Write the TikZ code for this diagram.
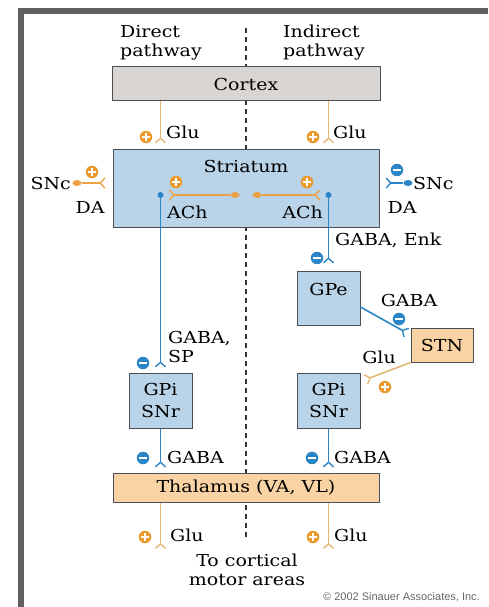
\documentclass[tikz,border=0pt]{standalone}
\usepackage{fontspec}
\setmainfont{DejaVu Serif}[FakeStretch=1.15]
\setsansfont{Liberation Sans}
\usetikzlibrary{arrows.meta,calc,shapes.geometric,positioning}

\definecolor{framegray}{HTML}{606060}
\definecolor{cortexfill}{HTML}{D9D5D3}
\definecolor{bluefill}{HTML}{B9D3E8}
\definecolor{orangefill}{HTML}{F9D3A3}
\definecolor{boxborder}{HTML}{4A4F55}
\definecolor{axonblue}{HTML}{2A86C6}
\definecolor{axontan}{HTML}{E3B877}
\definecolor{axonorange}{HTML}{EBA145}
\definecolor{signorange}{HTML}{EB9A2E}

\begin{document}
\begin{tikzpicture}
        [
            x=1pt,
            y=-1pt,
            font=\fontsize{16.5}{19}\selectfont,
            box/.style = {
                rectangle,
                draw=boxborder,
                line width=1pt,
                inner sep=0pt
            },
            synapse/.style = {
                line width=1.6pt,
                -{Straight Barb[reversed,length=4.5pt,width=10pt,line width=1.4pt]},
                shorten >=5pt
            },
            blueaxon/.style = {synapse, draw=axonblue},
            tanaxon/.style = {synapse, draw=axontan},
            orangeaxon/.style = {synapse, draw=axonorange},
            plus/.style = {
                circle,
                fill=signorange,
                minimum size=12.5pt,
                inner sep=0pt,
                path picture={
                    \draw[white,line width=2pt]
                        ([xshift=-3.6pt]path picture bounding box.center) -- ([xshift=3.6pt]path picture bounding box.center)
                        ([yshift=-3.6pt]path picture bounding box.center) -- ([yshift=3.6pt]path picture bounding box.center);
                }
            },
            minus/.style = {
                circle,
                fill=axonblue,
                minimum size=12.5pt,
                inner sep=0pt,
                path picture={
                    \draw[white,line width=2pt]
                        ([xshift=-3.6pt]path picture bounding box.center) -- ([xshift=3.6pt]path picture bounding box.center);
                }
            },
            soma/.style = {circle, fill=axonblue, inner sep=0pt, minimum size=6pt},
            bouton/.style = {ellipse, fill=axonorange, inner sep=0pt, minimum width=9pt, minimum height=6pt},
            lbl/.style = {inner sep=0pt}
        ]

        \useasboundingbox (0,0) rectangle (488,607);

        % frame
        \fill[framegray] (18,8) rectangle (488,14);
        \fill[framegray] (18,8) rectangle (24,607);

        % divider between the two pathways
        \draw[black!80, line width=1.8pt, dash pattern=on 5pt off 4pt] (246,28) -- (246,540);

        \node[lbl,anchor=north west,align=left] (direct) at (120,25) {Direct\\pathway};
        \node[lbl,anchor=north west,align=left] (indirect) at (283,25) {Indirect\\pathway};

        % nuclei
        \node[box,fill=cortexfill,minimum width=268pt,minimum height=34pt] (cortex) at (246,84) {Cortex};
        \node[box,fill=bluefill,minimum width=266pt,minimum height=78pt,
              label={[anchor=north,yshift=-8pt]north:Striatum}] (striatum) at (246,188) {};
        \node[box,fill=bluefill,minimum width=63pt,minimum height=54pt,
              label={[anchor=north,yshift=-9pt]north:GPe}] (gpe) at (328.5,298) {};
        \node[box,fill=orangefill,minimum width=62pt,minimum height=34pt] (stn) at (442,345) {STN};
        \node[box,fill=bluefill,minimum width=63pt,minimum height=55pt,align=center] (gpiL) at (160.5,400.5) {GPi\\[3pt]SNr};
        \node[box,fill=bluefill,minimum width=63pt,minimum height=55pt,align=center] (gpiR) at (328.5,400.5) {GPi\\[3pt]SNr};
        \node[box,fill=orangefill,minimum width=266pt,minimum height=29pt] (thal) at (246,487.5) {Thalamus (VA, VL)};

        % cell bodies and terminals
        \node[soma] (somaL) at (160.5,195) {};
        \node[soma] (somaR) at (328.5,195) {};
        \node[bouton] (achL) at (235,195) {};
        \node[bouton] (achR) at (257,195) {};
        \node[bouton] (sncL) at (77,183) {};
        \node[bouton,fill=axonblue] (sncR) at (408,183) {};

        % connections
        \draw[tanaxon] (cortex.south -| somaL) -- (striatum.north -| somaL);
        \draw[tanaxon] (cortex.south -| somaR) -- (striatum.north -| somaR);
        \draw[orangeaxon,shorten >=7pt] (sncL) -- (striatum.west |- sncL);
        \draw[blueaxon,shorten >=6pt] (sncR) -- (striatum.east |- sncR);
        \draw[orangeaxon] (achL) -- (somaL);
        \draw[orangeaxon] (achR) -- (somaR);
        \draw[blueaxon] (somaL) -- (gpiL.north);
        \draw[blueaxon,shorten >=7pt] (somaR) -- (gpe.north);
        \draw[blueaxon,shorten >=4pt] ($(gpe.east)+(0,9)$) -- ($(stn.west)+(0,-10)$);
        \draw[tanaxon] (stn.south west) -- ($(gpiR.north east)+(0,9)$);
        \draw[blueaxon] (gpiL.south) -- (thal.north -| gpiL);
        \draw[blueaxon] (gpiR.south) -- (thal.north -| gpiR);
        \coordinate (outL) at (160.5,549);
        \coordinate (outR) at (328.5,549);
        \draw[tanaxon,shorten >=0pt] (thal.south -| gpiL) -- (outL);
        \draw[tanaxon,shorten >=0pt] (thal.south -| gpiR) -- (outR);

        % signs
        \node[plus] (pCxL) at (146,137) {};
        \node[plus] (pCxR) at (313,137) {};
        \node[plus] (pAchL) at (176,182) {};
        \node[plus] (pAchR) at (307,182) {};
        \node[plus] (pSncL) at (92,172) {};
        \node[minus] (mSncR) at (397,170) {};
        \node[minus] (mGpe) at (317,258) {};
        \node[minus] (mStn) at (399,319) {};
        \node[plus] (pGpiR) at (385,387) {};
        \node[minus] (mGpiL) at (143,363) {};
        \node[minus] (mThL) at (143,458) {};
        \node[minus] (mThR) at (312,458) {};
        \node[plus] (pOutL) at (145,537) {};
        \node[plus] (pOutR) at (313,537) {};

        % transmitters
        \node[lbl,anchor=west] (gluCxL) at (166,132) {Glu};
        \node[lbl,anchor=west] (gluCxR) at (333,132) {Glu};
        \node[lbl,anchor=east] (sncLtxt) at (71,183) {SNc};
        \node[lbl] (daL) at (90,207) {DA};
        \node[lbl,anchor=west] (sncRtxt) at (413,183) {SNc};
        \node[lbl] (daR) at (402,207) {DA};
        \node[lbl,anchor=west] (achLtxt) at (167,212) {ACh};
        \node[lbl,anchor=east] (achRtxt) at (323,212) {ACh};
        \node[lbl,anchor=west] (gabaEnk) at (335,240) {GABA, Enk};
        \node[lbl] (gabaStn) at (409,300) {GABA};
        \node[lbl] (gluStn) at (379,357) {Glu};
        \node[lbl,anchor=north west,align=left] (gabaSp) at (168,331) {GABA,\\SP};
        \node[lbl,anchor=west] (gabaThL) at (167,457) {GABA};
        \node[lbl,anchor=west] (gabaThR) at (334,457) {GABA};
        \node[lbl,anchor=west] (gluOutL) at (170,535) {Glu};
        \node[lbl,anchor=west] (gluOutR) at (334,535) {Glu};
        \node[lbl,align=center] (motor) at (247,570) {To cortical\\motor areas};

        \node[lbl,anchor=east,text=black!60,font=\sffamily\fontsize{11}{13}\selectfont] (copy) at (480,597) {\textcopyright{} 2002 Sinauer Associates, Inc.};
    \end{tikzpicture}
\end{document}
